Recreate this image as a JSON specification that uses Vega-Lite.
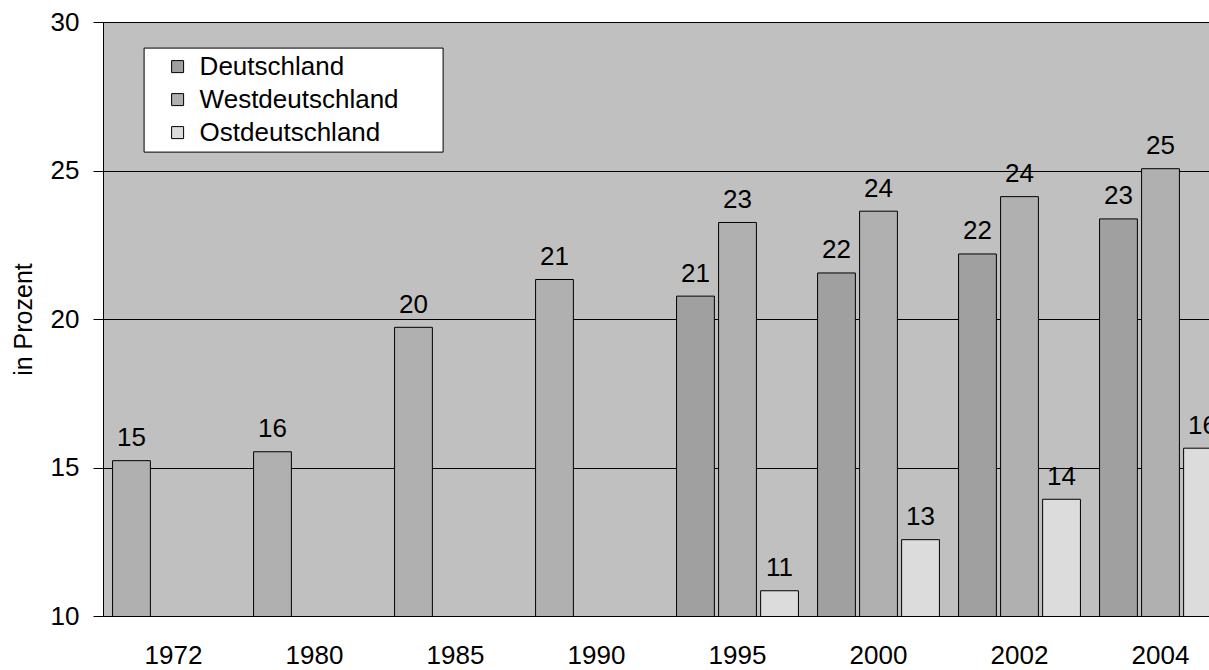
{
  "$schema": "https://vega.github.io/schema/vega-lite/v6.json",
  "width": 1106,
  "height": 594,
  "autosize": {"type": "none"},
  "padding": {"left": 103, "top": 22, "right": 0, "bottom": 54},
  "background": "white",
  "config": {
    "font": "Liberation Sans",
    "view": {"fill": "#C0C0C0", "stroke": null}
  },
  "data": {
    "values": [
      {"jahr": "1972", "reihe": "Deutschland", "gebiet": "Westdeutschland", "wert": 15.23},
      {"jahr": "1980", "reihe": "Deutschland", "gebiet": "Westdeutschland", "wert": 15.53},
      {"jahr": "1985", "reihe": "Deutschland", "gebiet": "Westdeutschland", "wert": 19.72},
      {"jahr": "1990", "reihe": "Deutschland", "gebiet": "Westdeutschland", "wert": 21.33},
      {"jahr": "1995", "reihe": "Deutschland", "gebiet": "Deutschland", "wert": 20.77},
      {"jahr": "1995", "reihe": "Westdeutschland", "gebiet": "Westdeutschland", "wert": 23.25},
      {"jahr": "1995", "reihe": "Ostdeutschland", "gebiet": "Ostdeutschland", "wert": 10.85},
      {"jahr": "2000", "reihe": "Deutschland", "gebiet": "Deutschland", "wert": 21.55},
      {"jahr": "2000", "reihe": "Westdeutschland", "gebiet": "Westdeutschland", "wert": 23.63},
      {"jahr": "2000", "reihe": "Ostdeutschland", "gebiet": "Ostdeutschland", "wert": 12.57},
      {"jahr": "2002", "reihe": "Deutschland", "gebiet": "Deutschland", "wert": 22.19},
      {"jahr": "2002", "reihe": "Westdeutschland", "gebiet": "Westdeutschland", "wert": 24.12},
      {"jahr": "2002", "reihe": "Ostdeutschland", "gebiet": "Ostdeutschland", "wert": 13.93},
      {"jahr": "2004", "reihe": "Deutschland", "gebiet": "Deutschland", "wert": 23.37},
      {"jahr": "2004", "reihe": "Westdeutschland", "gebiet": "Westdeutschland", "wert": 25.06},
      {"jahr": "2004", "reihe": "Ostdeutschland", "gebiet": "Ostdeutschland", "wert": 15.65}
    ]
  },
  "encoding": {
    "x": {
      "field": "jahr",
      "type": "nominal",
      "sort": null,
      "scale": {"range": [0, 1128], "paddingInner": 0.106, "paddingOuter": 0.053},
      "axis": {
        "title": null,
        "labelAngle": 0,
        "ticks": false,
        "tickSize": 0,
        "labelPadding": 26,
        "labelFontSize": 26,
        "labelColor": "black",
        "domainColor": "black",
        "domainWidth": 1,
        "grid": false
      }
    },
    "xOffset": {
      "field": "reihe",
      "type": "nominal",
      "sort": ["Deutschland", "Westdeutschland", "Ostdeutschland"],
      "scale": {"paddingInner": 0.1, "paddingOuter": 0.05}
    },
    "y": {
      "field": "wert",
      "type": "quantitative",
      "scale": {"domain": [10, 30], "nice": false, "zero": false},
      "axis": {
        "title": "in Prozent",
        "titleFontSize": 25,
        "titleFontWeight": "normal",
        "titleColor": "black",
        "titlePadding": 14,
        "values": [10, 15, 20, 25, 30],
        "grid": true,
        "gridColor": "black",
        "gridWidth": 1,
        "gridOpacity": 1,
        "domainColor": "black",
        "tickColor": "black",
        "tickSize": 10,
        "labelPadding": 14,
        "labelFontSize": 26,
        "labelColor": "black"
      }
    }
  },
  "layer": [
    {
      "mark": {"type": "bar", "stroke": "black", "strokeWidth": 1, "clip": true},
      "encoding": {
        "color": {
          "field": "gebiet",
          "type": "nominal",
          "scale": {
            "domain": ["Deutschland", "Westdeutschland", "Ostdeutschland"],
            "range": ["#A0A0A0", "#B0B0B0", "#DCDCDC"]
          },
          "legend": {
            "orient": "none",
            "legendX": 40.6,
            "legendY": 25.6,
            "title": null,
            "fillColor": "white",
            "strokeColor": "black",
            "padding": 6,
            "symbolType": "square",
            "symbolSize": 144,
            "symbolStrokeColor": "black",
            "symbolStrokeWidth": 1,
            "symbolOffset": 15,
            "labelOffset": 9,
            "labelFontSize": 26,
            "labelColor": "black",
            "labelLimit": 400,
            "rowPadding": 7,
            "labelExpr": "datum.label + '\u2800\u2800'"
          }
        }
      }
    },
    {
      "mark": {"type": "text", "dy": -14.5, "baseline": "alphabetic", "fontSize": 26, "color": "black", "clip": true},
      "encoding": {
        "text": {"field": "wert", "type": "quantitative", "format": ".0f"}
      }
    }
  ]
}
